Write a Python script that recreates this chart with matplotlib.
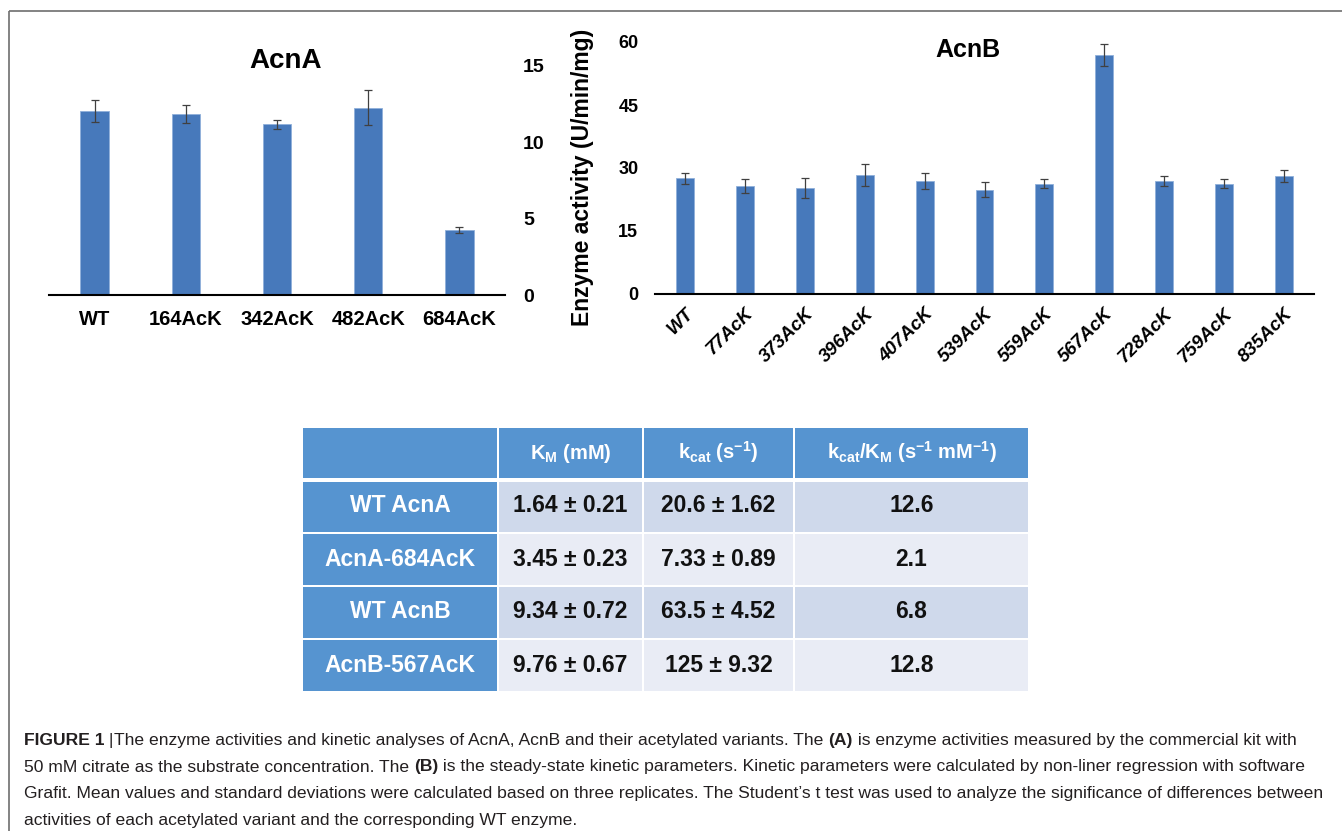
import matplotlib
matplotlib.use("Agg")
import numpy as np
import matplotlib.pyplot as plt
from matplotlib.patches import Rectangle

W, H = 1342, 831
DPI = 100

plt.rcParams["font.family"] = ["Liberation Sans", "DejaVu Sans"]
plt.rcParams["mathtext.fontset"] = "custom"
plt.rcParams["mathtext.rm"] = "Liberation Sans:bold"
plt.rcParams["mathtext.it"] = "Liberation Sans:bold"
plt.rcParams["mathtext.bf"] = "Liberation Sans:bold"

# enzyme activity, U/min/mg (mean and SD of three replicates)
acna_labels = ["WT", "164AcK", "342AcK", "482AcK", "684AcK"]
acna_mean = [12.08, 11.88, 11.18, 12.27, 4.25]
acna_sd = [0.72, 0.59, 0.30, 1.14, 0.22]

acnb_labels = ["WT", "77AcK", "373AcK", "396AcK", "407AcK", "539AcK",
               "559AcK", "567AcK", "728AcK", "759AcK", "835AcK"]
acnb_mean = [27.5, 25.6, 25.2, 28.3, 26.8, 24.8, 26.3, 57.0, 27.0, 26.3, 28.1]
acnb_sd = [1.35, 1.67, 2.30, 2.54, 1.90, 1.75, 1.10, 2.62, 1.19, 1.10, 1.43]

# steady-state kinetic parameters
kin_rows = ["WT AcnA", "AcnA-684AcK", "WT AcnB", "AcnB-567AcK"]
kin_km = ["1.64 ± 0.21", "3.45 ± 0.23", "9.34 ± 0.72", "9.76 ± 0.67"]
kin_kcat = ["20.6 ± 1.62", "7.33 ± 0.89", "63.5 ± 4.52", "125 ± 9.32"]
kin_eff = ["12.6", "2.1", "6.8", "12.8"]
kin_header = ["",
              r"K$_\mathrm{M}$ (mM)",
              r"k$_\mathrm{cat}$ (s$^\mathrm{-1}$)",
              r"k$_\mathrm{cat}$/K$_\mathrm{M}$ (s$^\mathrm{-1}$ mM$^\mathrm{-1}$)"]

caption = [
    [("FIGURE 1", True), (" |", False),
     ("The enzyme activities and kinetic analyses of AcnA, AcnB and their acetylated variants. The ", False),
     ("(A)", True), (" is enzyme activities measured by the commercial kit with", False)],
    [("50 mM citrate as the substrate concentration. The ", False), ("(B)", True),
     (" is the steady-state kinetic parameters. Kinetic parameters were calculated by non-liner regression with software", False)],
    [("Grafit. Mean values and standard deviations were calculated based on three replicates. "
      "The Student\u2019s t test was used to analyze the significance of differences between", False)],
    [("activities of each acetylated variant and the corresponding WT enzyme.", False)],
]

BAR = "#4779bb"
ERR = "#404040"
HEAD = "#5694d0"
ROW_DARK = "#cfd9eb"
ROW_LIGHT = "#e9ecf5"


def frac(x0, y0, x1, y1):
    """Pixel box (top-left origin) -> figure fraction rect."""
    return [x0 / W, 1 - y1 / H, (x1 - x0) / W, (y1 - y0) / H]


def style_bar_axes(ax):
    for s in ("top", "left", "right"):
        ax.spines[s].set_visible(False)
    ax.spines["bottom"].set_linewidth(1.5)
    ax.spines["bottom"].set_color("black")
    ax.patch.set_alpha(0)
    ax.tick_params(length=0)


fig = plt.figure(figsize=(W / DPI, H / DPI), dpi=DPI)

# full-figure overlay in pixel units: frame, table, caption
ov = fig.add_axes([0, 0, 1, 1])
ov.set_xlim(0, W)
ov.set_ylim(H, 0)
ov.axis("off")
ov.plot([9, W], [10.5, 10.5], color="#6e6e6e", lw=1.2, solid_capstyle="butt")
ov.plot([9, 9], [10.5, H], color="#6e6e6e", lw=1.2, solid_capstyle="butt")

# --- AcnA ---
ax1 = fig.add_axes(frac(49, 66, 505, 295))
x1 = np.arange(len(acna_labels))
ax1.bar(x1, acna_mean, width=0.31, color=BAR, edgecolor="#8fb0da", linewidth=0.6)
ax1.errorbar(x1, acna_mean, yerr=acna_sd, fmt="none", ecolor=ERR,
             elinewidth=0.9, capsize=2.6, capthick=0.9)
ax1.set_xlim(-0.5, len(acna_labels) - 0.5)
ax1.set_ylim(0, 15)
ax1.set_yticks([0, 5, 10, 15])
ax1.yaxis.tick_right()
style_bar_axes(ax1)
ax1.tick_params(axis="y", pad=13, labelsize=14)
ax1.tick_params(axis="x", pad=11, labelsize=14.5)
ax1.set_xticks(x1)
ax1.set_xticklabels(acna_labels, fontweight="bold")
for t in ax1.get_yticklabels():
    t.set_fontweight("bold")
fig.text(286 / W, 1 - 61 / H, "AcnA", ha="center", va="center",
         fontsize=20, fontweight="bold")

# --- AcnB ---
ax2 = fig.add_axes(frac(655, 42, 1314, 294))
x2 = np.arange(len(acnb_labels))
ax2.bar(x2, acnb_mean, width=0.3, color=BAR, edgecolor="#8fb0da", linewidth=0.6)
ax2.errorbar(x2, acnb_mean, yerr=acnb_sd, fmt="none", ecolor=ERR,
             elinewidth=0.9, capsize=2.6, capthick=0.9)
ax2.set_xlim(-0.5, len(acnb_labels) - 0.5)
ax2.set_ylim(0, 60)
ax2.set_yticks([0, 15, 30, 45, 60])
style_bar_axes(ax2)
ax2.tick_params(axis="y", pad=12, labelsize=13)
ax2.tick_params(axis="x", pad=8, labelsize=13.5)
ax2.set_xticks(x2)
ax2.set_xticklabels(acnb_labels, fontweight="bold", fontstyle="italic",
                    rotation=45, ha="right", rotation_mode="anchor")
for t in ax2.get_yticklabels():
    t.set_fontweight("bold")
fig.text(582 / W, 1 - 177 / H, "Enzyme activity (U/min/mg)", rotation=90,
         ha="center", va="center", fontsize=16.5, fontweight="bold")
fig.text(968 / W, 1 - 50 / H, "AcnB", ha="center", va="center",
         fontsize=18, fontweight="bold")

# --- kinetic parameter table ---
col_x = [302, 498, 643, 794, 1029]
row_y = [427, 479.5, 533, 586, 639, 692]
gap = 1.2
for r in range(len(row_y) - 1):
    for c in range(len(col_x) - 1):
        if r == 0 or c == 0:
            fc = HEAD
        else:
            fc = ROW_DARK if r % 2 == 1 else ROW_LIGHT
        top = row_y[r] + (2.5 if r == 1 else gap)
        ov.add_patch(Rectangle((col_x[c] + gap, top),
                               col_x[c + 1] - col_x[c] - 2 * gap,
                               row_y[r + 1] - top - gap,
                               facecolor=fc, edgecolor="none"))

centers = [(col_x[c] + col_x[c + 1]) / 2 for c in range(4)]
for c, txt in enumerate(kin_header):
    if txt:
        ov.text(centers[c], 459, txt, ha="center", va="baseline",
                color="white", fontsize=14.5, fontweight="bold")
cols = [kin_rows, kin_km, kin_kcat, kin_eff]
for r in range(len(kin_rows)):
    base = (row_y[r + 1] + row_y[r + 2]) / 2 + 6
    for c, col in enumerate(cols):
        ov.text(centers[c], base, col[r], ha="center", va="baseline",
                color="white" if c == 0 else "#111111",
                fontsize=16.5, fontweight="bold")

# --- caption, drawn piece by piece so bold runs sit inline ---
renderer = fig.canvas.get_renderer()
cap_size = 12.6
line_y = [745, 771.5, 798, 824.5]
for segs, y in zip(caption, line_y):
    x = 24
    for txt, bold in segs:
        t = ov.text(x, y, txt, ha="left", va="baseline", fontsize=cap_size,
                    fontweight="bold" if bold else "normal", color="#231f20")
        x += t.get_window_extent(renderer).width

fig.savefig("out.png", dpi=DPI)
